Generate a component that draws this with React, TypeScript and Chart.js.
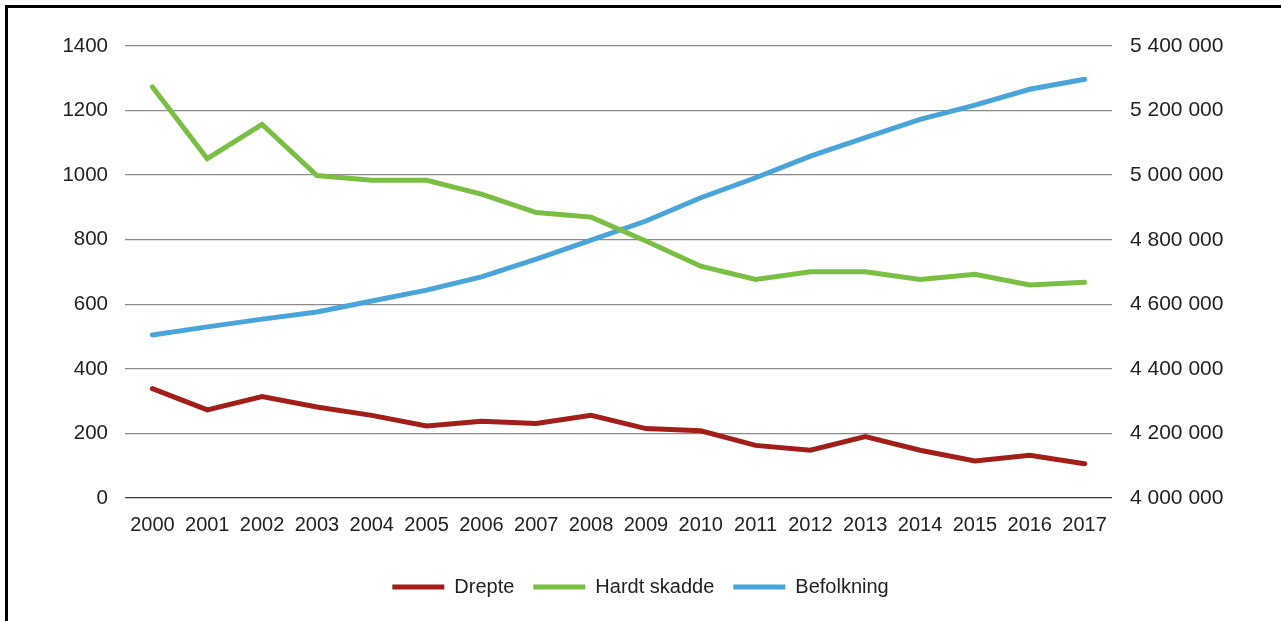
import React, { useEffect, useRef } from "react";
import { Chart, registerables } from "chart.js";

Chart.register(...registerables);

const years = ["2000","2001","2002","2003","2004","2005","2006","2007","2008","2009","2010","2011","2012","2013","2014","2015","2016","2017"];
const drepte = [339, 273, 314, 282, 256, 223, 238, 231, 256, 215, 208, 163, 148, 190, 148, 115, 132, 106];
const hardtSkadde = [1273, 1051, 1157, 999, 984, 984, 941, 884, 870, 796, 718, 677, 701, 701, 677, 693, 660, 668];
const befolkning = [4505000, 4530000, 4554000, 4576000, 4610000, 4644000, 4685000, 4740000, 4799000, 4858000, 4930000, 4992000, 5059000, 5116000, 5173000, 5217000, 5266000, 5297000];

const FONT = "'Liberation Sans', Arial, sans-serif";

export default function App() {
  const ref = useRef<HTMLCanvasElement>(null);
  useEffect(() => {
    if (!ref.current) return;
    const chart = new Chart(ref.current, {
      type: "line",
      data: {
        labels: years,
        datasets: [
          { label: "Drepte", data: drepte, borderColor: "#a11f18", backgroundColor: "#a11f18", borderWidth: 5, pointRadius: 0, borderCapStyle: "round", borderJoinStyle: "miter", yAxisID: "y", tension: 0 },
          { label: "Hardt skadde", data: hardtSkadde, borderColor: "#78bf44", backgroundColor: "#78bf44", borderWidth: 5, pointRadius: 0, borderCapStyle: "round", borderJoinStyle: "miter", yAxisID: "y", tension: 0 },
          { label: "Befolkning", data: befolkning, borderColor: "#48a4d9", backgroundColor: "#48a4d9", borderWidth: 5, pointRadius: 0, borderCapStyle: "round", borderJoinStyle: "miter", yAxisID: "y1", tension: 0 },
        ],
      },
      options: {
        animation: false,
        responsive: true,
        maintainAspectRatio: false,
        layout: { padding: { top: 46, bottom: 14, left: 0, right: 0 } },
        plugins: {
          tooltip: { enabled: false },
          legend: {
            position: "bottom",
            labels: {
              usePointStyle: true,
              pointStyle: "line",
              pointStyleWidth: 52,
              boxHeight: 5,
              padding: 19,
              color: "#222",
              font: { family: FONT, size: 20 },
            },
          },
        },
        scales: {
          x: {
            offset: true,
            grid: { display: false, drawTicks: false },
            border: { display: false },
            ticks: { color: "#222", font: { family: FONT, size: 20 }, padding: 15, maxRotation: 0, autoSkip: false },
            afterFit: (s: any) => { s.height = 60; },
          },
          y: {
            position: "left",
            min: 0,
            max: 1400,
            ticks: { stepSize: 200, color: "#222", font: { family: FONT, size: 20.5 }, padding: 17, callback: (v: any) => String(v) },
            grid: { drawTicks: false, color: (c: any) => (c.tick && c.tick.value === 0 ? "#3a3a3a" : "#8a8a8a"), lineWidth: 1.3 },
            border: { display: false },
            afterFit: (s: any) => { s.width = 125; },
          },
          y1: {
            position: "right",
            min: 4000000,
            max: 5400000,
            ticks: {
              stepSize: 200000,
              color: "#222",
              font: { family: FONT, size: 21 },
              padding: 18,
              callback: (v: any) => Number(v).toString().replace(/\B(?=(\d{3})+(?!\d))/g, " "),
            },
            grid: { display: false, drawTicks: false },
            border: { display: false },
            afterFit: (s: any) => { s.width = 169; },
          },
        },
      },
    });
    return () => chart.destroy();
  }, []);
  return (
    <>
      <div style={{ position: "fixed", left: 0, top: 0, width: 1281, height: 621, background: "#fff" }}>
        <canvas ref={ref} />
      </div>
      <div style={{ position: "fixed", left: 5, top: 5, width: 1320, height: 700, border: "3px solid #000", pointerEvents: "none" }} />
    </>
  );
}
